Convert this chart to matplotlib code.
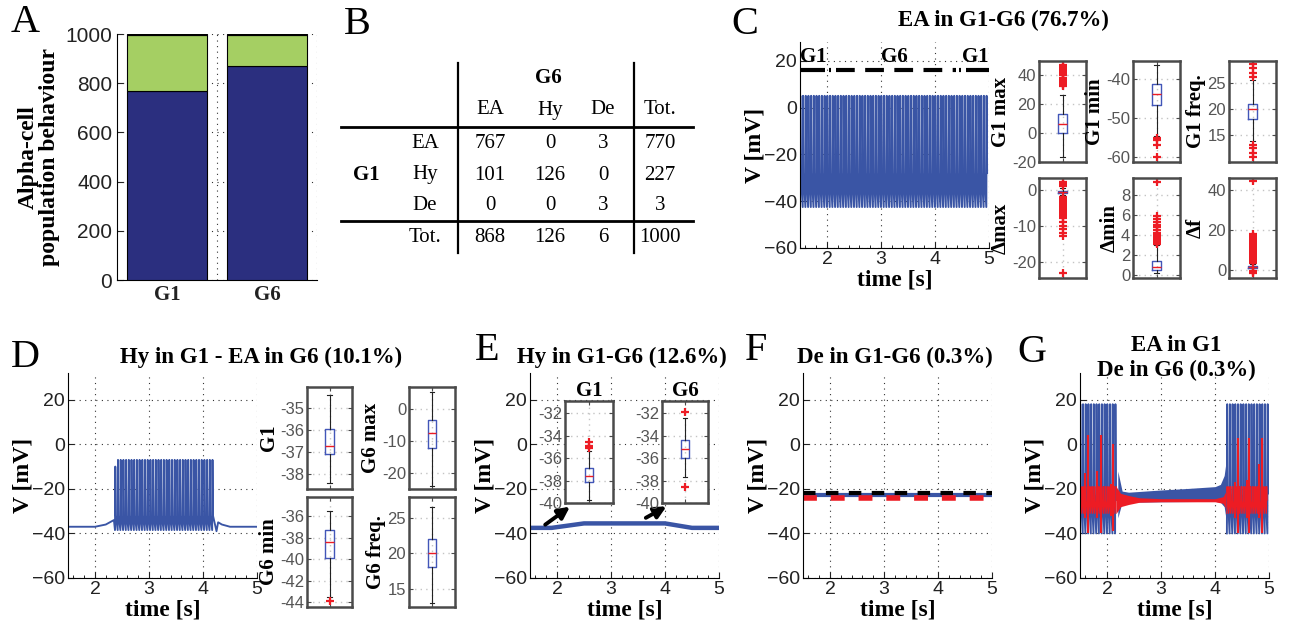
import numpy as np
import matplotlib
matplotlib.use("Agg")
import matplotlib.pyplot as plt
from matplotlib.lines import Line2D
from matplotlib.ticker import AutoMinorLocator, FixedLocator

W, H = 1292, 633
SERIF = "Liberation Serif"
SANS = "Liberation Sans"
plt.rcParams["font.family"] = [SANS, "DejaVu Sans"]

BLUE = "#3a55a5"
RED = "#ed1c24"
NAVY = "#2b2f7f"
GREEN = "#a5cf63"
DARKRED = "#7d1a2c"
BOXBLUE = "#4256b8"
FRAME = "#4a4a4a"
TICKGRAY = "#555555"

# ---- A: population behaviour counts
groups = ["G1", "G6"]
ea_counts = [770, 868]
hy_counts = [227, 126]
de_counts = [3, 6]

# ---- B: G1 -> G6 transition table
behaviours = ["EA", "Hy", "De"]
transition_counts = np.array([[767, 0, 3],
                              [101, 126, 0],
                              [0, 0, 3]])

# ---- C: EA in G1-G6 trace
c_rate = 20.0
c_v_trough, c_v_peak, c_v_after = -42.5, 5.0, -28.0
c_protocol = ["G1", "G6", "G1"]
c_protocol_start = [1.5, 2.0, 4.5]
c_protocol_end = [2.0, 4.5, 5.0]
c_protocol_level = 16.0

c_box_names = ["G1 max", "G1 min", "G1 freq.", "\u0394max", "\u0394min", "\u0394f"]
c_box_q1 = [0.0, -46.5, 18.0, -1.0, 0.5, 1.0]
c_box_med = [6.2, -43.9, 20.0, -0.7, 0.85, 1.5]
c_box_q3 = [13.1, -41.1, 21.0, -0.3, 1.4, 2.0]
c_box_lo = [-16.8, -54.7, 13.9, -1.5, 0.2, 0.0]
c_box_hi = [26.2, -36.4, 25.5, 0.5, 3.0, 3.0]
c_box_fliers = [
    [33, 33.5, 34, 34.5, 35, 35.5, 36, 37, 38, 40, 41, 42, 43, 44, 45, 46, 47],
    [-55, -55.6, -56.8, -60],
    [28.5, 27.7, 26.9, 26.1, 13.1, 12.5, 11.6, 10.8],
    [2, 1.5, 1, -2, -2.5, -3, -3.5, -4, -4.5, -5, -5.5, -6, -6.5, -7, -7.5, -8,
     -9, -10, -11, -12, -13, -23],
    [3.1, 3.2, 3.3, 3.4, 3.5, 3.6, 3.8, 4.0, 4.2, 4.5, 4.8, 5.0, 5.3, 5.6, 5.9, 9.3],
    [3.5, 4, 5, 6, 7, 8, 9, 10, 11, 12, 13, 14, 15, 16, 17, 18, -0.5, -1, -1.5, 44],
]
c_box_ylim = [(-20, 50), (-61.3, -35.3), (9.9, 29.1), (-24.5, 3.2), (-0.26, 9.75), (-3.8, 45.7)]
c_box_yticks = [[-20, 0, 20, 40], [-60, -50, -40], [15, 20, 25], [-20, -10, 0],
                [0, 2, 4, 6, 8], [0, 20, 40]]

# ---- D: Hy in G1 - EA in G6
d_pre_t = [1.5, 2.0, 2.2, 2.35]
d_pre_v = [-37.0, -37.0, -36.0, -34.0]
d_burst_start, d_burst_end = 2.37, 4.22
d_rate = 20.0
d_v_trough, d_v_peak, d_v_after = -38.5, -7.0, -32.0
d_post_t = [4.25, 4.28, 4.35, 4.5, 5.0]
d_post_v = [-39.0, -35.0, -36.0, -37.0, -37.0]

d_box_names = ["G1", "G6 max", "G6 min", "G6 freq."]
d_box_q1 = [-37.1, -12.1, -39.9, 18.0]
d_box_med = [-36.7, -7.5, -38.4, 20.0]
d_box_q3 = [-35.95, -3.3, -37.3, 22.0]
d_box_lo = [-38.4, -24.0, -43.5, 13.0]
d_box_hi = [-34.4, 5.5, -35.5, 26.5]
d_box_fliers = [[], [], [-43.9], []]
d_box_ylim = [(-38.67, -34.05), (-25.1, 7.0), (-44.45, -34.2), (12.4, 27.9)]
d_box_yticks = [[-38, -37, -36, -35], [-20, -10, 0], [-44, -42, -40, -38, -36], [15, 20, 25]]

# ---- E: Hy in G1-G6
e_t = [1.5, 1.9, 2.5, 4.0, 4.5, 5.0]
e_v = [-37.5, -37.5, -35.5, -35.5, -37.5, -37.5]
e_box_names = ["G1", "G6"]
e_box_q1 = [-38.1, -36.0]
e_box_med = [-37.55, -35.2]
e_box_q3 = [-36.9, -34.4]
e_box_lo = [-39.7, -37.7]
e_box_hi = [-35.4, -32.4]
e_box_fliers = [[-34.6, -34.9, -35.1], [-31.9, -38.6]]
e_box_ylim = (-40.0, -30.9)
e_box_yticks = [-40, -38, -36, -34, -32]
e_arrow_from = [(1.74, -36.8), (3.6, -33.6)]

# ---- F: De in G1-G6
f_t = [1.5, 5.0]
f_blue_v = [-22.8, -22.8]
f_black_v = [-22.0, -22.0]
f_red_v = [-24.2, -24.2]

# ---- G: EA in G1, De in G6
g_spike_windows = [(1.5, 2.2), (4.22, 5.0)]
g_rate = 20.0
g_v_trough, g_v_peak, g_v_after = -40.0, 18.0, -22.0
g_mid_t = [2.2, 2.28, 2.4, 3.0, 3.5, 4.0, 4.1, 4.17, 4.22]
g_mid_lo = [-33, -26, -26, -25.8, -25.7, -25.6, -26, -28, -36]
g_mid_hi = [-12, -21, -21.5, -20.5, -19.8, -19, -18, -14, -5]
g_red_rate = 30.0
g_red_trough, g_red_peak, g_red_after = -31.0, -19.0, -25.0
g_red_t = [2.17, 2.25, 2.4, 2.6, 3.0, 4.0, 4.15, 4.25]
g_red_lo = [-31, -28, -27, -26, -25.8, -25.8, -26.5, -31]
g_red_hi = [-19, -22, -23, -24, -24.4, -24.4, -23.5, -19]
g_red_spike_t = [1.60, 1.64, 1.82, 1.88, 2.07, 2.11, 4.37, 4.42, 4.59, 4.63, 4.82, 4.87]
g_red_spike_top = [-13, 4, -12, 4, -18, 0, -17, 3, -16, 3, -9, 3]
g_red_spike_bot = [-33, -40, -33, -40, -32, -39, -33, -40, -33, -40, -33, -40]


fig = plt.figure(figsize=(W / 100, H / 100), dpi=100)


def px_axes(left, top, right, bottom):
    return fig.add_axes([left / W, 1 - bottom / H, (right - left) / W, (bottom - top) / H])


def fig_text(x, y, s, **kw):
    fig.text(x / W, 1 - y / H, s, **kw)


def fig_line(x0, x1, y0, y1, lw=1.6):
    fig.add_artist(Line2D([x0 / W, x1 / W], [1 - y0 / H, 1 - y1 / H], color="k",
                          lw=lw, transform=fig.transFigure))


def bold_serif(size):
    return dict(family=SERIF, fontweight="bold", fontsize=size)


def panel_letter(x, y, s):
    fig_text(x, y, s, family=SERIF, fontsize=29, ha="center", va="center")


def spike_trace(t_start, t_end, rate, v_trough, v_peak, v_after):
    period = 1.0 / rate
    starts = np.arange(t_start, t_end - 0.5 * period, period)
    shape_t = np.array([0.0, 0.12, 0.3]) * period
    shape_v = np.array([v_trough, v_peak, v_after])
    t = (starts[:, None] + shape_t[None, :]).ravel()
    v = np.tile(shape_v, len(starts))
    return t, v


def trace_axes(rect, ylim_top=32.0):
    ax = px_axes(*rect)
    ax.set_xlim(1.5, 5.0)
    ax.set_ylim(-60, ylim_top)
    ax.set_xticks([2, 3, 4, 5])
    ax.set_yticks([-60, -40, -20, 0, 20])
    ax.xaxis.set_minor_locator(AutoMinorLocator(5))
    ax.grid(True, linestyle=(0, (1, 4)), color="#333333", linewidth=0.8)
    ax.spines["top"].set_visible(False)
    ax.spines["right"].set_visible(False)
    ax.tick_params(direction="in", labelsize=14, length=4, pad=2, colors="#222222")
    ax.tick_params(which="minor", direction="in", length=2)
    ax.set_xlabel("time [s]", labelpad=1, **bold_serif(17))
    ax.set_ylabel("V [mV]", **bold_serif(17))
    ax.yaxis.set_label_coords(-0.185, 0.5)
    ax.set_axisbelow(True)
    return ax


def box_axes(rect, q1, med, q3, lo, hi, fliers, ylim, yticks, label=None, label_pad=1):
    ax = px_axes(*rect)
    stats = [dict(q1=q1, med=med, q3=q3, whislo=lo, whishi=hi, fliers=fliers)]
    ax.bxp(stats, positions=[1], widths=0.18, capwidths=0.09, showfliers=True,
           boxprops=dict(color=BOXBLUE, linewidth=1.0),
           medianprops=dict(color=RED, linewidth=1.0),
           whiskerprops=dict(color="#222222", linewidth=0.8),
           capprops=dict(color="#222222", linewidth=0.8),
           flierprops=dict(marker="+", markeredgecolor=RED, markersize=6, markeredgewidth=1.6))
    ax.set_xlim(0.5, 1.5)
    ax.set_ylim(*ylim)
    ax.set_xticks([1])
    ax.set_xticklabels([])
    ax.set_yticks(yticks)
    ax.set_yticklabels([f"{t:g}" for t in yticks])
    ax.grid(True, linestyle=(0, (1, 3)), color="#c4c4c4", linewidth=1.0)
    ax.set_axisbelow(True)
    for s in ax.spines.values():
        s.set_color(FRAME)
        s.set_linewidth(1.8)
    ax.tick_params(axis="y", left=True, right=True, direction="in", length=3,
                   labelsize=12, labelcolor=TICKGRAY, color=FRAME, pad=2)
    ax.tick_params(axis="x", bottom=True, top=True, direction="in", length=3, color=FRAME)
    if label:
        ax.set_ylabel(label, labelpad=label_pad, **bold_serif(15))
    return ax


# ================= A =================
ax_a = px_axes(117, 34, 317, 280)
xa = np.arange(1, len(groups) + 1)
bar_kw = dict(width=0.8, edgecolor="k", linewidth=0.8, zorder=3)
ax_a.bar(xa, ea_counts, color=NAVY, **bar_kw)
ax_a.bar(xa, hy_counts, bottom=ea_counts, color=GREEN, **bar_kw)
ax_a.bar(xa, de_counts, bottom=np.add(ea_counts, hy_counts), color=DARKRED, **bar_kw)
ax_a.set_xlim(0.5, 2.5)
ax_a.set_ylim(0, 1000)
ax_a.set_xticks(xa)
ax_a.set_xticklabels(groups, **bold_serif(17))
ax_a.set_yticks(range(0, 1001, 200))
ax_a.xaxis.set_minor_locator(FixedLocator([1.5, 2.5]))
ax_a.grid(True, which="minor", axis="x", linestyle=(0, (1, 4)), color="#333333", linewidth=0.8)
ax_a.grid(True, which="major", axis="y", linestyle=(0, (1, 4)), color="#333333", linewidth=0.8)
ax_a.tick_params(which="minor", length=0)
ax_a.tick_params(direction="in", labelsize=15, length=4, colors="#222222")
ax_a.spines["top"].set_visible(False)
ax_a.spines["right"].set_visible(False)
ax_a.set_axisbelow(True)
ax_a.set_ylabel("Alpha-cell\npopulation behaviour", linespacing=1.0, labelpad=4, **bold_serif(17))
panel_letter(25, 23, "A")

# ================= B =================
panel_letter(357, 24, "B")
fig_line(458, 458, 63, 253)
fig_line(634, 634, 63, 253)
fig_line(341, 693, 127, 127, lw=2.0)
fig_line(341, 693, 221, 221, lw=2.0)
col_x = [490, 550, 603]
tot_x = 660
row_y = [144, 175, 206]
tab_kw = dict(family=SERIF, fontsize=15, ha="center", va="center")
fig_text(548, 78, "G6", ha="center", va="center", **bold_serif(15))
fig_text(366, 175, "G1", ha="center", va="center", **bold_serif(15))
for j, name in enumerate(behaviours):
    fig_text(col_x[j], 110, name, **tab_kw)
fig_text(tot_x, 110, "Tot.", **tab_kw)
for i, name in enumerate(behaviours):
    fig_text(425, row_y[i], name, **tab_kw)
    for j in range(len(behaviours)):
        fig_text(col_x[j], row_y[i], str(transition_counts[i, j]), **tab_kw)
    fig_text(tot_x, row_y[i], str(transition_counts[i].sum()), **tab_kw)
fig_text(425, 238, "Tot.", **tab_kw)
for j in range(len(behaviours)):
    fig_text(col_x[j], 238, str(transition_counts[:, j].sum()), **tab_kw)
fig_text(tot_x, 238, str(transition_counts.sum()), **tab_kw)

# ================= C =================
panel_letter(745, 24, "C")
fig_text(1003, 20, "EA in G1-G6 (76.7%)", ha="center", va="center", **bold_serif(16.5))
ax_c = trace_axes((800, 42, 989, 248), ylim_top=28.0)
tc, vc = spike_trace(1.5, 5.0, c_rate, c_v_trough, c_v_peak, c_v_after)
ax_c.plot(tc, vc, color=BLUE, lw=1.4)
for lab, t0, t1 in zip(c_protocol, c_protocol_start, c_protocol_end):
    if lab == "G1":
        ax_c.plot([t0 + (0.08 if t0 > 1.5 else 0), t1 - (0.03 if t1 < 5 else 0)],
                  [c_protocol_level] * 2, color="k", lw=3, solid_capstyle="butt")
    else:
        ax_c.plot([t0 + 0.03, t0 + 0.08], [c_protocol_level] * 2, color="k", lw=3,
                  solid_capstyle="butt")
        ax_c.plot([t1 - 0.05, t1 - 0.01], [c_protocol_level] * 2, color="k", lw=3,
                  solid_capstyle="butt")
        ax_c.plot([t0 + 0.17, t1 - 0.12], [c_protocol_level] * 2, color="k", lw=3,
                  dashes=(4.5, 2.5), dash_capstyle="butt")
    ax_c.text((t0 + t1) / 2, 21.8, lab, ha="center", va="center", **bold_serif(15))

c_cols = [(1039, 1086), (1133, 1180), (1229, 1276)]
c_rows = [(61, 162), (178, 278)]
for k, name in enumerate(c_box_names):
    (l, r), (t, b) = c_cols[k % 3], c_rows[k // 3]
    box_axes((l, t, r, b), c_box_q1[k], c_box_med[k], c_box_q3[k], c_box_lo[k],
             c_box_hi[k], c_box_fliers[k], c_box_ylim[k], c_box_yticks[k], name)

# ================= D =================
panel_letter(25, 357, "D")
fig_text(261, 357, "Hy in G1 - EA in G6 (10.1%)", ha="center", va="center", **bold_serif(16.5))
ax_d = trace_axes((68, 373, 257, 578))
tb, vb = spike_trace(d_burst_start, d_burst_end, d_rate, d_v_trough, d_v_peak, d_v_after)
vb[1] = -10.0  # first spike of the burst is smaller
td = np.concatenate([d_pre_t, tb, d_post_t])
vd = np.concatenate([d_pre_v, vb, d_post_v])
ax_d.plot(td, vd, color=BLUE, lw=1.35)

d_cols = [(307, 352), (409, 455)]
d_rows = [(387, 489), (497, 607)]
for k, name in enumerate(d_box_names):
    (l, r), (t, b) = d_cols[k % 2], d_rows[k // 2]
    box_axes((l, t, r, b), d_box_q1[k], d_box_med[k], d_box_q3[k], d_box_lo[k],
             d_box_hi[k], d_box_fliers[k], d_box_ylim[k], d_box_yticks[k], name)

# ================= E =================
panel_letter(487, 350, "E")
fig_text(622, 357, "Hy in G1-G6 (12.6%)", ha="center", va="center", **bold_serif(16.5))
ax_e = trace_axes((530, 373, 719, 578))
ax_e.plot(e_t, e_v, color=BLUE, lw=3.2)
e_cols = [(565, 613), (662, 708)]
for k, name in enumerate(e_box_names):
    l, r = e_cols[k]
    ax_in = box_axes((l, 401, r, 503), e_box_q1[k], e_box_med[k], e_box_q3[k], e_box_lo[k],
                     e_box_hi[k], e_box_fliers[k], e_box_ylim, e_box_yticks)
    ax_in.set_title(name, pad=1, **bold_serif(15))
    ax_e.annotate("", xy=(0.15, -0.02), xycoords=ax_in.transAxes,
                  xytext=e_arrow_from[k], textcoords="data",
                  arrowprops=dict(arrowstyle="-|>,head_length=0.7,head_width=0.35",
                                  color="k", lw=2.8))

# ================= F =================
panel_letter(756, 350, "F")
fig_text(895, 357, "De in G1-G6 (0.3%)", ha="center", va="center", **bold_serif(16.5))
ax_f = trace_axes((803, 373, 992, 578))
ax_f.plot(f_t, f_blue_v, color=BLUE, lw=3)
ax_f.plot(f_t, f_black_v, color="k", lw=3, dashes=(3, 2.5))
ax_f.plot(f_t, f_red_v, color=RED, lw=4, dashes=(2.5, 2.5))

# ================= G =================
panel_letter(1032, 352, "G")
fig_text(1176, 358, "EA in G1\nDe in G6 (0.3%)", ha="center", va="center",
         linespacing=1.25, **bold_serif(16.5))
ax_g = trace_axes((1080, 373, 1269, 578))
for t0, t1 in g_spike_windows:
    tg, vg = spike_trace(t0, t1, g_rate, g_v_trough, g_v_peak, g_v_after)
    ax_g.plot(tg, vg, color=BLUE, lw=1.35)
ax_g.fill_between(g_mid_t, g_mid_lo, g_mid_hi, color=BLUE, lw=0)
for t0, t1 in g_spike_windows:
    tr, vr = spike_trace(t0, t1, g_red_rate, g_red_trough, g_red_peak, g_red_after)
    ax_g.plot(tr, vr, color=RED, lw=0.8)
ax_g.fill_between(g_red_t, g_red_lo, g_red_hi, color=RED, lw=0)
ax_g.vlines(g_red_spike_t, g_red_spike_bot, g_red_spike_top, color=RED, lw=1.5)

fig.savefig("out.png", dpi=100)
